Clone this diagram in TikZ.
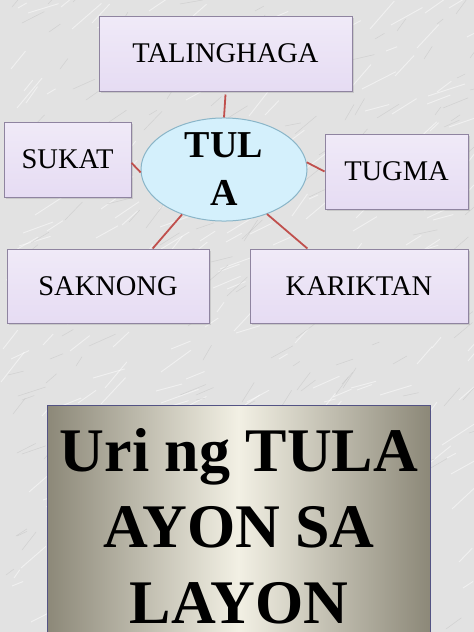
\documentclass[tikz,border=0pt]{standalone}
\usepackage{fontspec}
\setmainfont{Liberation Serif}
\usetikzlibrary{positioning,shapes.geometric,shadows}
\definecolor{lila}{HTML}{E6DCF3}
\definecolor{lilaBorde}{HTML}{8F84A0}
\definecolor{celeste}{HTML}{D4F0FC}
\definecolor{celesteBorde}{HTML}{8AB5C8}
\definecolor{rojoLinea}{HTML}{C0504D}
\definecolor{plata}{HTML}{8C8878}
\definecolor{plataClara}{HTML}{F2F0E4}
\definecolor{marmol}{HTML}{E2E2E2}
\tikzstyle{ParteBox}=[rectangle, draw=lilaBorde, top color=lila!60, bottom color=lila, line width=1pt, inner sep=0pt, minimum height=75pt, font=\fontsize{28.5}{32}\selectfont, drop shadow={opacity=0.25, shadow xshift=1.5pt, shadow yshift=-1.5pt}]
\tikzstyle{TulaOvalo}=[ellipse, draw=celesteBorde, fill=celeste, line width=1pt, inner sep=0pt, minimum width=166pt, minimum height=97pt, align=center, font=\bfseries\fontsize{38}{48}\selectfont]
\tikzstyle{Linya}=[draw=rojoLinea, line width=1.8pt]

\begin{document}
\begin{tikzpicture}[x=1pt, y=-1pt]
			\clip (0,0) rectangle (474,632);
			%Fondo
			\fill[marmol] (0,0) rectangle (474,632);
			\pgfmathsetseed{11}
			\foreach \i in {1,...,260}{
				\pgfmathsetmacro{\px}{random(0,474)}
				\pgfmathsetmacro{\py}{random(0,632)}
				\pgfmathsetmacro{\ang}{random(15,55)}
				\pgfmathsetmacro{\len}{random(10,40)}
				\draw[white, line width=0.9pt, opacity=0.5] (\px,\py) -- ++(-\ang:\len);
			}
			\foreach \i in {1,...,220}{
				\pgfmathsetmacro{\px}{random(0,474)}
				\pgfmathsetmacro{\py}{random(0,632)}
				\pgfmathsetmacro{\ang}{random(10,60)}
				\pgfmathsetmacro{\len}{random(8,30)}
				\draw[gray!50, line width=0.5pt, opacity=0.5] (\px,\py) -- ++(-\ang:\len);
			}

			%Nodos
			\node[TulaOvalo]	(tula)		at (224,169.5)	{TUL\\A};
			\node[ParteBox, minimum width=253pt]	(talinghaga)	at (225.5,53.5)	{TALINGHAGA};
			\node[ParteBox, minimum width=127pt]	(sukat)		at (67.5,159.5)	{SUKAT};
			\node[ParteBox, minimum width=143pt]	(tugma)		at (396.5,171.5)	{TUGMA};
			\node[ParteBox, minimum width=202pt, minimum height=74pt]	(saknong)	at (108,286)	{SAKNONG};
			\node[ParteBox, minimum width=218pt, minimum height=74pt]	(kariktan)	[right=40pt of saknong]	{KARIKTAN};

			%Lineas
			\draw[Linya] (tula.north) -- ([yshift=-3pt]talinghaga.south);
			\draw[Linya] (tula.182) -- (sukat.-3);
			\draw[Linya] (tula.5) -- (tugma.west);
			\draw[Linya] (tula.227) -- (saknong.40);
			\draw[Linya] (tula.314) -- (kariktan.144);

			%Titulo
			\shade[left color=plata, right color=plata, middle color=plataClara, draw=black!45!blue!35!gray, line width=1pt] (47,405) rectangle (430,645);
			\node[anchor=north, inner sep=0pt, align=center, font=\bfseries\fontsize{62}{76}\selectfont] (titulo) at (239,428) {Uri ng TULA\\AYON SA\\LAYON};
		\end{tikzpicture}
\end{document}
